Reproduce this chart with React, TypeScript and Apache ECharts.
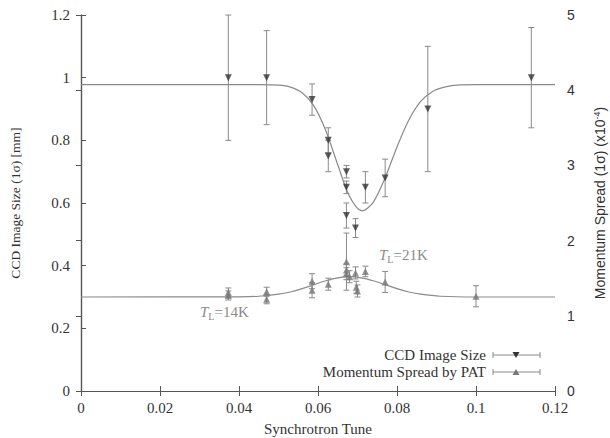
import React, { useEffect, useRef } from "react";
import * as echarts from "echarts";

// CCD image size (left axis, mm)
const ccdTune = [0.0373, 0.047, 0.0585, 0.0626, 0.0626, 0.0672, 0.0672, 0.0672, 0.0695, 0.072, 0.077, 0.0878, 0.114];
const ccdSize = [1.0, 1.0, 0.93, 0.8, 0.75, 0.7, 0.65, 0.56, 0.52, 0.65, 0.68, 0.9, 1.0];
const ccdErr = [0.2, 0.15, 0.05, 0.04, 0.05, 0.02, 0.02, 0.04, 0.03, 0.05, 0.06, 0.2, 0.16];

// Momentum spread by PAT (right axis, x10^-4)
const momTune = [0.0373, 0.0373, 0.047, 0.047, 0.0585, 0.0585, 0.0626, 0.0672, 0.0672, 0.0672, 0.068, 0.0695, 0.0697, 0.07, 0.072, 0.077, 0.1];
const momSpread = [1.31, 1.27, 1.32, 1.22, 1.46, 1.34, 1.42, 1.72, 1.61, 1.56, 1.52, 1.57, 1.38, 1.33, 1.59, 1.45, 1.26];
const momErr = [0.06, 0.06, 0.06, 0.06, 0.1, 0.1, 0.08, 0.38, 0.08, 0.08, 0.08, 0.08, 0.08, 0.08, 0.07, 0.14, 0.14];

// Fit curves
const ccdFitTune = [0, 0.03, 0.045, 0.05, 0.053, 0.056, 0.059, 0.062, 0.065, 0.068, 0.0712, 0.074, 0.077, 0.08, 0.083, 0.086, 0.089, 0.092, 0.096, 0.1, 0.12];
const ccdFitSize = [0.978, 0.978, 0.978, 0.976, 0.97, 0.952, 0.909, 0.83, 0.722, 0.621, 0.575, 0.603, 0.681, 0.779, 0.865, 0.924, 0.956, 0.97, 0.977, 0.978, 0.978];
const momFitTune = [0, 0.04, 0.045, 0.05, 0.053, 0.056, 0.059, 0.062, 0.065, 0.068, 0.071, 0.074, 0.077, 0.08, 0.083, 0.086, 0.091, 0.1, 0.12];
const momFitSpread = [1.25, 1.252, 1.26, 1.287, 1.317, 1.361, 1.414, 1.466, 1.505, 1.52, 1.505, 1.466, 1.414, 1.361, 1.317, 1.287, 1.26, 1.25, 1.25];

const FONT = '"Liberation Serif", "DejaVu Serif", serif';
const SANS = '"Liberation Sans", Arial, sans-serif';
const AXIS_COLOR = "#555";
const TEXT_COLOR = "#333";
const GRAY = "#8a8a8a";

function errorBars(color: string) {
  return (params: any, api: any) => {
    const x = api.value(0);
    const y = api.value(1);
    const e = api.value(2);
    const hi = api.coord([x, y + e]);
    const lo = api.coord([x, y - e]);
    const w = 3;
    const style = { stroke: color, lineWidth: 1, fill: null };
    return {
      type: "group",
      children: [
        { type: "line", shape: { x1: hi[0], y1: hi[1], x2: lo[0], y2: lo[1] }, style },
        { type: "line", shape: { x1: hi[0] - w, y1: hi[1], x2: hi[0] + w, y2: hi[1] }, style },
        { type: "line", shape: { x1: lo[0] - w, y1: lo[1], x2: lo[0] + w, y2: lo[1] }, style },
      ],
    };
  };
}

export default function App() {
  const ref = useRef<HTMLDivElement>(null);
  useEffect(() => {
    if (!ref.current) return;
    const chart = echarts.init(ref.current, undefined, { renderer: "svg" });
    const axisLabel = { color: TEXT_COLOR, fontFamily: FONT, fontSize: 15 };
    const legendX = 486;
    const legendRows = [
      { y: 355, text: "CCD Image Size", color: "#333", down: true },
      { y: 372, text: "Momentum Spread by PAT", color: "#777", down: false },
    ];
    const graphics: any[] = [];
    legendRows.forEach((r) => {
      graphics.push({
        type: "text",
        x: legendX,
        y: r.y,
        style: { text: r.text, fill: TEXT_COLOR, font: `15px ${FONT}`, align: "right", verticalAlign: "middle" },
      });
      const st = { stroke: GRAY, lineWidth: 1 };
      graphics.push({ type: "line", shape: { x1: 493, y1: r.y, x2: 540, y2: r.y }, style: st });
      graphics.push({ type: "line", shape: { x1: 493, y1: r.y - 3, x2: 493, y2: r.y + 3 }, style: st });
      graphics.push({ type: "line", shape: { x1: 540, y1: r.y - 3, x2: 540, y2: r.y + 3 }, style: st });
      const cx = 516;
      const pts = r.down
        ? [[cx - 3.5, r.y - 3], [cx + 3.5, r.y - 3], [cx, r.y + 3]]
        : [[cx - 3.5, r.y + 3], [cx + 3.5, r.y + 3], [cx, r.y - 3]];
      graphics.push({ type: "polygon", shape: { points: pts }, style: { fill: r.color } });
    });
    const tlRich = {
      t: { fontFamily: FONT, fontSize: 15, fontStyle: "italic", fill: GRAY },
      s: { fontFamily: FONT, fontSize: 10, fill: GRAY, padding: [8, 0, 0, 0] },
      n: { fontFamily: FONT, fontSize: 15, fill: GRAY },
    };
    graphics.push({
      type: "text",
      x: 200,
      y: 312,
      style: { text: "{t|T}{s|L}{n|=14K}", verticalAlign: "middle", rich: tlRich },
    });
    graphics.push({
      type: "text",
      x: 379,
      y: 255,
      style: { text: "{t|T}{s|L}{n|=21K}", verticalAlign: "middle", rich: tlRich },
    });

    chart.setOption({
      animation: false,
      backgroundColor: "#fff",
      grid: { left: 81, right: 55, top: 15, bottom: 47, containLabel: false, outerBoundsMode: "none" },
      xAxis: [
        {
          type: "value",
          min: 0,
          max: 0.12,
          interval: 0.02,
          name: "Synchrotron Tune",
          nameLocation: "middle",
          nameGap: 30,
          nameTextStyle: { color: TEXT_COLOR, fontFamily: FONT, fontSize: 15 },
          axisLine: { lineStyle: { color: AXIS_COLOR, width: 1.2 } },
          axisTick: { inside: true, length: 5, lineStyle: { color: AXIS_COLOR } },
          axisLabel: { ...axisLabel, margin: 9 },
          splitLine: { show: false },
        },
        {
          type: "value",
          position: "top",
          min: 0,
          max: 0.12,
          interval: 0.02,
          axisLine: { lineStyle: { color: AXIS_COLOR, width: 1.2 } },
          axisTick: { inside: true, length: 5, lineStyle: { color: AXIS_COLOR } },
          axisLabel: { show: false },
          splitLine: { show: false },
        },
      ],
      yAxis: [
        {
          type: "value",
          min: 0,
          max: 1.2,
          interval: 0.2,
          name: "CCD Image Size (1σ) [mm]",
          nameLocation: "middle",
          nameRotate: 90,
          nameGap: 59,
          nameTextStyle: { color: TEXT_COLOR, fontFamily: FONT, fontSize: 13.5 },
          axisLine: { show: true, lineStyle: { color: AXIS_COLOR, width: 1.2 } },
          axisTick: { show: true, inside: true, length: 5, lineStyle: { color: AXIS_COLOR } },
          axisLabel: { ...axisLabel, margin: 11 },
          splitLine: { show: false },
        },
        {
          type: "value",
          position: "right",
          min: 0,
          max: 5,
          interval: 1,
          name: "Momentum Spread (1σ) (x10{sup|-4})",
          nameLocation: "middle",
          nameRotate: 90,
          nameGap: 37,
          nameTextStyle: {
            color: TEXT_COLOR,
            fontFamily: SANS,
            fontSize: 14,
            rich: { sup: { fontSize: 9, fontFamily: SANS, color: TEXT_COLOR, padding: [0, 0, 7, 0] } },
          },
          axisLine: { show: true, lineStyle: { color: AXIS_COLOR, width: 1.2 } },
          axisTick: { show: true, inside: true, length: 5, lineStyle: { color: AXIS_COLOR } },
          axisLabel: { color: TEXT_COLOR, fontFamily: SANS, fontSize: 14, margin: 12 },
          splitLine: { show: false },
        },
      ],
      series: [
        {
          type: "line",
          data: ccdFitTune.map((t, i) => [t, ccdFitSize[i]]),
          smooth: 0.3,
          symbol: "none",
          lineStyle: { color: GRAY, width: 1.2 },
          z: 1,
        },
        {
          type: "line",
          yAxisIndex: 1,
          data: momFitTune.map((t, i) => [t, momFitSpread[i]]),
          smooth: 0.3,
          symbol: "none",
          lineStyle: { color: GRAY, width: 1.2 },
          z: 1,
        },
        {
          type: "custom",
          renderItem: errorBars(GRAY),
          data: ccdTune.map((t, i) => [t, ccdSize[i], ccdErr[i]]),
          encode: { x: 0, y: 1 },
          z: 2,
        },
        {
          type: "custom",
          yAxisIndex: 1,
          renderItem: errorBars(GRAY),
          data: momTune.map((t, i) => [t, momSpread[i], momErr[i]]),
          encode: { x: 0, y: 1 },
          z: 2,
        },
        {
          type: "scatter",
          name: "CCD Image Size",
          data: ccdTune.map((t, i) => [t, ccdSize[i]]),
          symbol: "triangle",
          symbolRotate: 180,
          symbolSize: 7,
          itemStyle: { color: "#333" },
          z: 3,
        },
        {
          type: "scatter",
          name: "Momentum Spread by PAT",
          yAxisIndex: 1,
          data: momTune.map((t, i) => [t, momSpread[i]]),
          symbol: "triangle",
          symbolSize: 7,
          itemStyle: { color: "#777" },
          z: 3,
        },
      ],
      graphic: graphics,
    });
    return () => chart.dispose();
  }, []);
  return <div ref={ref} style={{ width: 610, height: 438, position: "absolute", left: 0, top: 0 }} />;
}
